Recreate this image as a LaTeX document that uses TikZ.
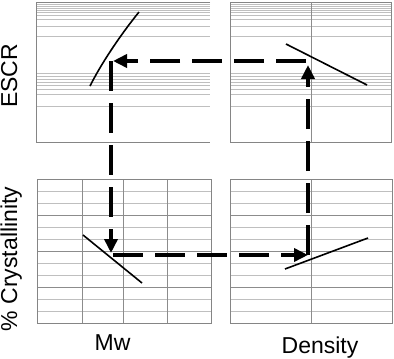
\documentclass[tikz,border=0pt]{standalone}
\usepackage{fontspec}
\setmainfont{Liberation Sans}
\usetikzlibrary{arrows.meta}

\begin{document}
\begin{tikzpicture}[x=1pt, y=-1pt,
    minor/.style={draw=black!25, line width=0.8pt},
    major/.style={draw=black!45, line width=0.9pt},
    frame/.style={draw=black!48, line width=0.9pt},
    trend/.style={draw=black, line width=1.6pt},
    flow/.style={-{Triangle[length=14pt, width=13pt]}, line width=3.5pt, dash pattern=on 30pt off 12pt},
    axislabel/.style={font=\fontsize{23}{27}\selectfont, inner sep=0pt}
]
    \useasboundingbox (0,0) rectangle (394,359);

    % Top panels (log scale)
    \foreach \y in {4,6,8,10,12.5,15.5,19.5,26,36,73.5,76.5,79,82,85,89,94,106.5} {
        \draw[minor] (36,\y) -- (210,\y);
        \draw[minor] (230,\y) -- (391,\y);
    }
    \draw[frame] (210,2) -- (36,2) -- (36,142) -- (210,142);
    \draw[frame] (230,2) rectangle (391,142);
    \draw[major] (311,2) -- (311,142);

    % Bottom panels
    \foreach \y in {191,203,227,239,263,275,299,311} {
        \draw[minor] (37,\y) -- (211,\y);
        \draw[minor] (230,\y) -- (392,\y);
    }
    \foreach \y in {215,251,287} {
        \draw[major] (37,\y) -- (211,\y);
        \draw[major] (230,\y) -- (392,\y);
    }
    \foreach \x in {82,123,167}
        \draw[major] (\x,179) -- (\x,323);
    \draw[major] (311,179) -- (311,323);
    \draw[frame] (37,179) rectangle (211,323);
    \draw[frame] (230,179) rectangle (392,323);

    % Trends
    \draw[trend] (90,86) .. controls (100,66) and (118,38) .. (139,12);
    \draw[trend] (286,44) -- (367,85);
    \draw[trend] (83,235) -- (142,283);
    \draw[trend] (285,269) -- (368,238);

    % Labels
    \node[axislabel, rotate=90, anchor=base] (escr) at (17,76) {ESCR};
    \node[axislabel, rotate=90, anchor=base] (cryst) at (17,259) {\% Crystallinity};
    \node[axislabel, anchor=base] (mw) at (112.5,350) {Mw};
    \node[axislabel, anchor=base] (dens) at (320,353) {Density};

    % Flow loop
    \coordinate (mwescr) at (111,61);
    \coordinate (densescr) at (308,61);
    \coordinate (denscryst) at (308,255);
    \coordinate (mwcryst) at (111,255);
    \draw[flow, shorten >=4pt] (denscryst) -- (densescr);
    \draw[flow, shorten <=2pt, shorten >=2pt] (densescr) -- (mwescr);
    \draw[flow, shorten >=2pt] (mwescr) -- (mwcryst);
    \draw[flow, shorten <=2pt] (mwcryst) -- (denscryst);
\end{tikzpicture}
\end{document}
